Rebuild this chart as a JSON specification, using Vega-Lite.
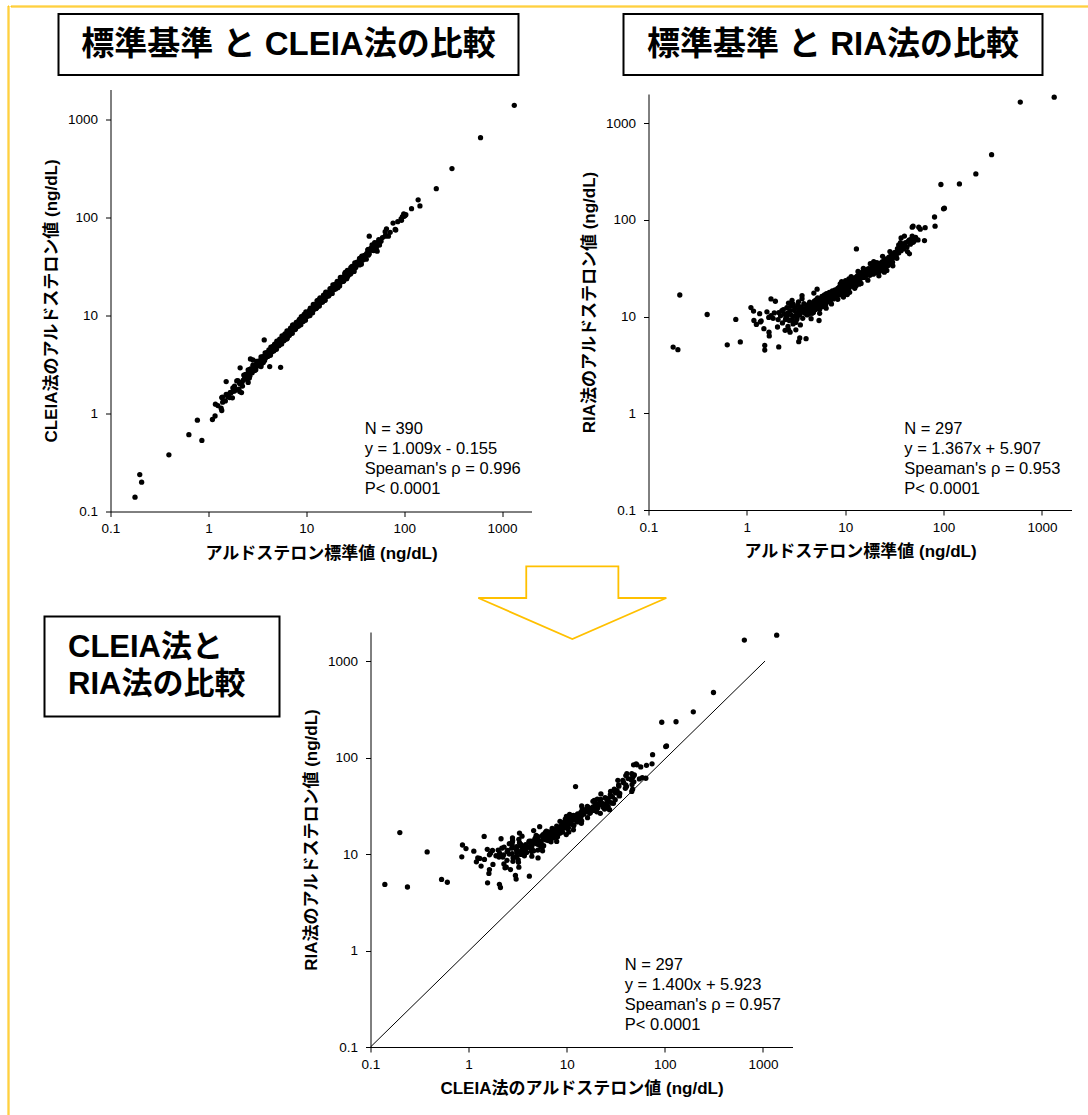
{
"$schema": "https://vega.github.io/schema/vega-lite/v6.json",
"background": "white",
"padding": {"left": 6.5, "top": 4.5, "right": 0, "bottom": 0},
"config": {
  "view": {"stroke": null},
  "font": "Liberation Sans",
  "axis": {"grid": false, "domainColor": "#000", "domainWidth": 1, "tickColor": "#000", "tickWidth": 1, "tickSize": 5, "labelColor": "#000", "labelFont": "Liberation Sans", "labelFontSize": 13.5, "labelFlush": false, "labelOverlap": false, "titleFont": "Liberation Sans, Noto Sans CJK JP", "titleFontSize": 17, "titleFontWeight": "bold", "titleColor": "#000"},
  "axisX": {"labelPadding": 5, "titlePadding": 10},
  "axisY": {"labelPadding": 8, "titlePadding": 7},
  "text": {"font": "Liberation Sans, Noto Sans CJK JP"}
},
"datasets": {"samples": [
{"std":0.178,"cleia":0.14,"ria":4.84},{"std":0.199,"cleia":0.238,"ria":4.55},{"std":0.208,"cleia":0.199,"ria":16.7},{"std":0.395,"cleia":0.378,"ria":10.5},{"std":0.632,"cleia":0.607,"ria":5.1},{"std":0.772,"cleia":0.852,"ria":9.35},{"std":0.858,"cleia":0.53,"ria":5.46},{"std":1.1,"cleia":0.866,"ria":12.4},{"std":1.17,"cleia":0.94,"ria":11.4},{"std":1.18,"cleia":1.24,"ria":9.1},{"std":1.35,"cleia":1.13,"ria":10.7},{"std":1.4,"cleia":1.3,"ria":9.0},{"std":1.37,"cleia":1.45,"ria":8.8},{"std":1.49,"cleia":1.34,"ria":7.5},{"std":1.52,"cleia":1.56,"ria":5.03},{"std":1.52,"cleia":2.11,"ria":4.5},{"std":2.11,"cleia":2.06,"ria":4.85},{"std":1.68,"cleia":1.63,"ria":6.9},{"std":1.69,"cleia":1.61,"ria":6.3},{"std":1.76,"cleia":1.44,"ria":15.2},{"std":1.95,"cleia":2.14,"ria":14.4},{"std":1.76,"cleia":1.67,"ria":10.2},{"std":1.67,"cleia":1.63,"ria":9.8},{"std":2.11,"cleia":2.0,"ria":11.0},{"std":2.08,"cleia":2.04,"ria":9.3},{"std":2.05,"cleia":1.77,"ria":7.8},{"std":2.27,"cleia":2.18,"ria":11.5},{"std":2.47,"cleia":2.23,"ria":9.3},{"std":2.56,"cleia":2.6,"ria":10.0},{"std":2.62,"cleia":2.29,"ria":7.9},{"std":2.66,"cleia":2.42,"ria":7.3},{"std":2.75,"cleia":2.67,"ria":6.9},{"std":2.88,"cleia":2.8,"ria":14.7},{"std":2.96,"cleia":2.8,"ria":13.4},{"std":3.37,"cleia":3.05,"ria":5.5},{"std":3.45,"cleia":3.0,"ria":6.0},{"std":4.0,"cleia":4.16,"ria":5.9},{"std":3.64,"cleia":3.3,"ria":16.5},{"std":3.64,"cleia":3.5,"ria":15.3},{"std":5.42,"cleia":5.1,"ria":9.1},{"std":5.18,"cleia":5.3,"ria":19.2},{"std":4.8,"cleia":4.6,"ria":17.5},{"std":4.4,"cleia":4.2,"ria":11.9},{"std":4.1,"cleia":3.9,"ria":10.4},{"std":4.5,"cleia":4.4,"ria":12.6},{"std":3.95,"cleia":3.8,"ria":10.8},{"std":3.37,"cleia":3.42,"ria":10.7},{"std":3.5,"cleia":3.52,"ria":11.6},{"std":3.23,"cleia":3.1,"ria":9.4},{"std":3.15,"cleia":3.2,"ria":8.7},{"std":2.9,"cleia":3.0,"ria":9.3},{"std":1.25,"cleia":1.2,"ria":8.3},{"std":1.6,"cleia":1.55,"ria":11.2},{"std":1.85,"cleia":1.9,"ria":9.6},{"std":1.9,"cleia":1.75,"ria":10.9},
{"std":1334,"cleia":1380,"ria":1854},{"std":603,"cleia":646,"ria":1650},{"std":308,"cleia":313,"ria":472},{"std":213,"cleia":195,"ria":298},{"std":145,"cleia":130,"ria":235},{"std":94,"cleia":93,"ria":232},{"std":102,"cleia":104,"ria":132},{"std":100,"cleia":102,"ria":130},{"std":81,"cleia":75,"ria":107},{"std":82,"cleia":74,"ria":86},{"std":65,"cleia":65,"ria":83},{"std":56,"cleia":52,"ria":84},{"std":48,"cleia":48,"ria":84},{"std":49,"cleia":51,"ria":86},{"std":48,"cleia":46,"ria":68},{"std":50,"cleia":55,"ria":60},{"std":45,"cleia":46,"ria":44.5},{"std":45,"cleia":47,"ria":62},{"std":37,"cleia":40,"ria":65},{"std":35,"cleia":38,"ria":55},{"std":38,"cleia":40,"ria":52},{"std":40,"cleia":41,"ria":68},{"std":13,"cleia":12.3,"ria":50},{"std":64,"cleia":64,"ria":61},
{"std":2.2,"cleia":2.07,"ria":10.2},{"std":2.3,"cleia":2.46,"ria":8.6},{"std":2.35,"cleia":2.3,"ria":11.8},{"std":2.4,"cleia":2.47,"ria":10.6},{"std":2.5,"cleia":2.28,"ria":9.8},{"std":2.55,"cleia":2.78,"ria":12.4},{"std":2.6,"cleia":2.5,"ria":10.9},{"std":2.7,"cleia":2.84,"ria":9.1},{"std":2.75,"cleia":2.75,"ria":11.5},{"std":2.8,"cleia":2.6,"ria":12.8},{"std":2.85,"cleia":3.1,"ria":10.3},{"std":2.95,"cleia":2.83,"ria":8.4},{"std":3.0,"cleia":3.09,"ria":11.6},{"std":3.05,"cleia":2.78,"ria":10.1},{"std":3.1,"cleia":3.38,"ria":12.3},{"std":3.2,"cleia":3.07,"ria":11.0},{"std":3.25,"cleia":3.41,"ria":9.9},{"std":3.3,"cleia":3.3,"ria":13.1},{"std":3.4,"cleia":3.09,"ria":11.9},{"std":3.45,"cleia":3.76,"ria":10.4},{"std":3.55,"cleia":3.41,"ria":12.6},{"std":3.6,"cleia":3.78,"ria":11.3},{"std":3.7,"cleia":3.7,"ria":9.6},{"std":3.75,"cleia":3.45,"ria":12.1},{"std":3.8,"cleia":4.14,"ria":13.6},{"std":3.85,"cleia":3.7,"ria":10.9},{"std":3.9,"cleia":4.1,"ria":11.8},{"std":2.45,"cleia":2.35,"ria":7.2},{"std":3.15,"cleia":3.25,"ria":7.3},{"std":3.5,"cleia":3.22,"ria":8.2},{"std":2.65,"cleia":2.81,"ria":13.8},{"std":3.35,"cleia":3.25,"ria":14.2},
{"std":4.05,"cleia":3.81,"ria":12.5},{"std":4.15,"cleia":4.44,"ria":11.2},{"std":4.2,"cleia":4.12,"ria":13.3},{"std":4.25,"cleia":4.38,"ria":10.6},{"std":4.3,"cleia":3.91,"ria":12.0},{"std":4.35,"cleia":4.74,"ria":14.1},{"std":4.45,"cleia":4.27,"ria":11.5},{"std":4.55,"cleia":4.78,"ria":12.9},{"std":4.6,"cleia":4.6,"ria":10.8},{"std":4.65,"cleia":4.32,"ria":13.6},{"std":4.7,"cleia":4.42,"ria":12.2},{"std":4.75,"cleia":5.08,"ria":11.0},{"std":4.85,"cleia":4.75,"ria":14.4},{"std":4.9,"cleia":5.05,"ria":12.6},{"std":4.95,"cleia":4.5,"ria":13.1},{"std":5.0,"cleia":5.45,"ria":11.8},{"std":5.05,"cleia":4.85,"ria":14.9},{"std":5.1,"cleia":5.36,"ria":12.4},{"std":5.2,"cleia":5.2,"ria":13.8},{"std":5.25,"cleia":4.88,"ria":15.6},{"std":5.3,"cleia":4.98,"ria":12.9},{"std":5.35,"cleia":5.72,"ria":14.2},{"std":5.45,"cleia":5.34,"ria":13.3},{"std":5.5,"cleia":5.67,"ria":11.9},{"std":5.6,"cleia":5.1,"ria":15.1},{"std":5.65,"cleia":6.16,"ria":14.0},{"std":5.7,"cleia":5.47,"ria":13.0},{"std":5.8,"cleia":6.09,"ria":16.2},{"std":5.85,"cleia":5.85,"ria":14.6},{"std":5.9,"cleia":5.49,"ria":12.7},{"std":6.0,"cleia":5.64,"ria":15.4},{"std":6.05,"cleia":6.47,"ria":13.8},{"std":6.15,"cleia":6.03,"ria":16.7},{"std":6.2,"cleia":6.39,"ria":14.3},{"std":6.3,"cleia":5.73,"ria":15.9},{"std":6.35,"cleia":6.92,"ria":13.4},{"std":6.45,"cleia":6.19,"ria":17.3},{"std":6.5,"cleia":6.83,"ria":15.0},{"std":6.6,"cleia":6.6,"ria":14.2},{"std":6.7,"cleia":6.23,"ria":16.4},{"std":6.8,"cleia":6.39,"ria":15.5},{"std":6.9,"cleia":7.38,"ria":17.8},{"std":7.0,"cleia":6.86,"ria":16.1},{"std":7.1,"cleia":7.31,"ria":14.7},{"std":7.2,"cleia":6.55,"ria":17.0},{"std":7.3,"cleia":7.96,"ria":15.8},{"std":7.4,"cleia":7.1,"ria":18.4},{"std":7.5,"cleia":7.88,"ria":16.6},{"std":7.6,"cleia":7.6,"ria":15.2},{"std":7.7,"cleia":7.16,"ria":17.5},{"std":7.8,"cleia":7.33,"ria":16.3},{"std":7.9,"cleia":8.45,"ria":18.9},{"std":4.5,"cleia":4.41,"ria":9.5},{"std":5.5,"cleia":5.67,"ria":10.8},{"std":6.4,"cleia":5.82,"ria":12.2},{"std":7.25,"cleia":7.9,"ria":13.5},
{"std":8.0,"cleia":7.68,"ria":17.9},{"std":8.1,"cleia":8.51,"ria":16.4},{"std":8.2,"cleia":8.2,"ria":18.6},{"std":8.3,"cleia":7.72,"ria":17.2},{"std":8.4,"cleia":7.9,"ria":19.5},{"std":8.5,"cleia":9.1,"ria":16.9},{"std":8.6,"cleia":8.43,"ria":18.1},{"std":8.7,"cleia":8.96,"ria":20.2},{"std":8.8,"cleia":8.0,"ria":17.6},{"std":8.9,"cleia":9.7,"ria":19.0},{"std":9.0,"cleia":8.64,"ria":16.8},{"std":9.1,"cleia":9.56,"ria":18.8},{"std":9.2,"cleia":9.2,"ria":20.9},{"std":9.3,"cleia":8.65,"ria":17.9},{"std":9.4,"cleia":8.84,"ria":19.7},{"std":9.5,"cleia":10.2,"ria":18.3},{"std":9.6,"cleia":9.41,"ria":21.4},{"std":9.7,"cleia":9.99,"ria":19.2},{"std":9.8,"cleia":8.92,"ria":17.7},{"std":9.9,"cleia":10.8,"ria":20.5},{"std":10.0,"cleia":9.6,"ria":19.1},{"std":10.2,"cleia":10.7,"ria":21.8},{"std":10.4,"cleia":10.4,"ria":18.7},{"std":10.6,"cleia":9.86,"ria":20.9},{"std":10.8,"cleia":10.2,"ria":22.6},{"std":11.0,"cleia":11.8,"ria":19.9},{"std":11.2,"cleia":11.0,"ria":21.3},{"std":11.4,"cleia":11.7,"ria":23.4},{"std":11.6,"cleia":10.6,"ria":20.6},{"std":11.8,"cleia":12.9,"ria":22.2},{"std":12.0,"cleia":11.5,"ria":24.3},{"std":12.2,"cleia":12.8,"ria":21.5},{"std":12.4,"cleia":12.4,"ria":23.1},{"std":12.6,"cleia":11.7,"ria":25.2},{"std":12.8,"cleia":12.0,"ria":22.4},{"std":13.0,"cleia":13.9,"ria":24.0},{"std":13.2,"cleia":12.9,"ria":26.1},{"std":13.4,"cleia":13.8,"ria":23.3},{"std":13.6,"cleia":12.4,"ria":25.0},{"std":13.8,"cleia":15.0,"ria":27.0},{"std":14.0,"cleia":13.4,"ria":24.2},{"std":14.2,"cleia":14.9,"ria":26.0},{"std":14.4,"cleia":14.4,"ria":28.1},{"std":14.6,"cleia":13.6,"ria":25.1},{"std":14.8,"cleia":13.9,"ria":27.0},{"std":15.0,"cleia":16.0,"ria":29.0},{"std":15.2,"cleia":14.9,"ria":26.1},{"std":15.4,"cleia":15.9,"ria":28.0},{"std":15.6,"cleia":14.2,"ria":25.4},{"std":15.8,"cleia":17.2,"ria":29.6},{"std":8.4,"cleia":8.06,"ria":15.1},{"std":9.2,"cleia":9.66,"ria":23.0},{"std":10.5,"cleia":10.5,"ria":16.9},{"std":11.5,"cleia":10.7,"ria":25.8},{"std":12.5,"cleia":11.75,"ria":19.6},{"std":13.5,"cleia":14.4,"ria":29.3},{"std":14.5,"cleia":14.2,"ria":22.0},{"std":9.6,"cleia":9.89,"ria":15.9},{"std":10.9,"cleia":9.92,"ria":24.5},{"std":12.9,"cleia":14.1,"ria":20.8},{"std":8.9,"cleia":8.54,"ria":21.8},{"std":11.1,"cleia":11.7,"ria":17.8},{"std":13.9,"cleia":13.9,"ria":21.6},{"std":15.3,"cleia":14.2,"ria":31.5},{"std":10.1,"cleia":10.4,"ria":23.5},
{"std":16.0,"cleia":15.4,"ria":28.6},{"std":16.3,"cleia":17.1,"ria":26.4},{"std":16.6,"cleia":16.6,"ria":30.5},{"std":16.9,"cleia":15.7,"ria":27.6},{"std":17.2,"cleia":16.2,"ria":31.2},{"std":17.5,"cleia":18.7,"ria":28.9},{"std":17.8,"cleia":17.4,"ria":26.7},{"std":18.1,"cleia":18.6,"ria":30.8},{"std":18.4,"cleia":16.7,"ria":28.2},{"std":18.7,"cleia":20.4,"ria":32.6},{"std":19.0,"cleia":18.2,"ria":29.5},{"std":19.3,"cleia":20.3,"ria":27.4},{"std":19.6,"cleia":19.6,"ria":33.4},{"std":19.9,"cleia":18.5,"ria":30.6},{"std":20.3,"cleia":19.1,"ria":28.3},{"std":20.7,"cleia":22.1,"ria":32.5},{"std":21.1,"cleia":20.7,"ria":30.0},{"std":21.5,"cleia":22.1,"ria":34.8},{"std":21.9,"cleia":19.9,"ria":31.3},{"std":22.3,"cleia":24.3,"ria":29.2},{"std":22.7,"cleia":21.8,"ria":35.6},{"std":23.1,"cleia":24.3,"ria":32.8},{"std":23.5,"cleia":23.5,"ria":30.5},{"std":23.9,"cleia":22.2,"ria":36.9},{"std":24.3,"cleia":22.8,"ria":33.7},{"std":24.7,"cleia":26.4,"ria":31.2},{"std":25.1,"cleia":24.6,"ria":38.4},{"std":25.5,"cleia":26.3,"ria":35.1},{"std":25.9,"cleia":23.6,"ria":32.6},{"std":26.3,"cleia":28.7,"ria":39.5},{"std":26.8,"cleia":25.7,"ria":36.3},{"std":27.3,"cleia":28.7,"ria":33.8},{"std":27.8,"cleia":27.8,"ria":41.2},{"std":28.3,"cleia":26.3,"ria":37.6},{"std":28.8,"cleia":27.1,"ria":35.0},{"std":29.3,"cleia":31.4,"ria":43.1},{"std":29.8,"cleia":29.2,"ria":39.2},{"std":30.3,"cleia":31.2,"ria":36.5},{"std":30.8,"cleia":28.0,"ria":44.7},{"std":31.3,"cleia":34.1,"ria":41.0},{"std":17.0,"cleia":16.3,"ria":23.8},{"std":19.5,"cleia":20.5,"ria":37.0},{"std":22.0,"cleia":22.0,"ria":26.4},{"std":24.0,"cleia":22.3,"ria":42.0},{"std":26.5,"cleia":24.9,"ria":30.0},{"std":28.5,"cleia":30.5,"ria":47.0},{"std":30.5,"cleia":29.9,"ria":33.5},{"std":18.0,"cleia":18.5,"ria":35.2},{"std":21.0,"cleia":19.1,"ria":36.0},{"std":25.0,"cleia":27.3,"ria":28.8},
{"std":32.0,"cleia":30.7,"ria":46.0},{"std":33.0,"cleia":34.7,"ria":42.5},{"std":34.0,"cleia":34.0,"ria":50.5},{"std":35.0,"cleia":32.6,"ria":45.5},{"std":36.0,"cleia":33.8,"ria":52.0},{"std":37.0,"cleia":39.6,"ria":48.0},{"std":38.5,"cleia":37.7,"ria":55.0},{"std":39.5,"cleia":40.7,"ria":50.0},{"std":41.0,"cleia":37.3,"ria":58.0},{"std":42.5,"cleia":46.3,"ria":52.5},{"std":44.0,"cleia":42.2,"ria":60.5},{"std":46.0,"cleia":48.3,"ria":56.0},{"std":47.5,"cleia":47.5,"ria":64.0},{"std":49.0,"cleia":45.6,"ria":58.5},{"std":52.0,"cleia":48.9,"ria":66.0},{"std":55.0,"cleia":58.9,"ria":62.0},{"std":58.0,"cleia":56.8,"ria":80.0},{"std":33.5,"cleia":34.5,"ria":40.0},{"std":36.5,"cleia":33.2,"ria":58.0},{"std":43.0,"cleia":46.9,"ria":47.0},
{"std":1.37,"cleia":1.07},{"std":1.39,"cleia":1.46},{"std":1.58,"cleia":1.48},{"std":1.65,"cleia":1.45},{"std":1.78,"cleia":1.82},{"std":1.85,"cleia":1.69},{"std":2.0,"cleia":2.16},{"std":2.11,"cleia":2.91},{"std":2.09,"cleia":1.67},{"std":2.18,"cleia":1.63},{"std":2.23,"cleia":1.9},{"std":2.55,"cleia":2.07},{"std":2.65,"cleia":2.6},{"std":2.69,"cleia":3.59},{"std":2.85,"cleia":3.5},{"std":2.97,"cleia":2.73},{"std":3.36,"cleia":3.17},{"std":3.67,"cleia":3.72},{"std":3.72,"cleia":5.61},{"std":4.23,"cleia":3.0},{"std":5.47,"cleia":2.95},
{"std":3.1,"cleia":3.0},{"std":3.9,"cleia":4.1},{"std":4.3,"cleia":4.1},{"std":4.7,"cleia":4.9},{"std":5.1,"cleia":5.0},{"std":5.6,"cleia":5.4},{"std":6.1,"cleia":6.3},{"std":6.6,"cleia":6.4},{"std":7.1,"cleia":7.3},{"std":7.7,"cleia":7.4},{"std":8.2,"cleia":8.5},{"std":8.8,"cleia":8.6},{"std":9.4,"cleia":9.7},{"std":10.1,"cleia":9.8},{"std":10.8,"cleia":11.2},{"std":11.5,"cleia":11.1},{"std":12.3,"cleia":12.7},{"std":13.1,"cleia":12.6},{"std":14.0,"cleia":14.5},{"std":14.9,"cleia":14.4},{"std":15.9,"cleia":16.4},{"std":16.9,"cleia":16.3},{"std":18.0,"cleia":18.6},{"std":19.1,"cleia":18.4},{"std":20.3,"cleia":21.0},{"std":21.6,"cleia":20.8},{"std":22.9,"cleia":23.6},{"std":24.3,"cleia":23.4},{"std":25.8,"cleia":26.6},{"std":27.4,"cleia":26.3},{"std":29.0,"cleia":30.0},{"std":30.8,"cleia":29.6},{"std":32.7,"cleia":33.7},{"std":34.7,"cleia":33.3},{"std":36.8,"cleia":38.0},{"std":39.0,"cleia":37.5},{"std":41.5,"cleia":42.8},{"std":2.4,"cleia":2.5},{"std":2.8,"cleia":2.7},{"std":3.4,"cleia":3.3},{"std":4.6,"cleia":4.8},{"std":5.8,"cleia":5.6},{"std":6.9,"cleia":7.1},{"std":8.5,"cleia":8.3},{"std":9.9,"cleia":10.3},{"std":11.9,"cleia":11.5},{"std":13.6,"cleia":14.1},{"std":15.5,"cleia":15.0},{"std":17.6,"cleia":18.2},{"std":19.8,"cleia":19.2},{"std":23.5,"cleia":24.2},{"std":26.7,"cleia":25.9},{"std":31.5,"cleia":32.4},{"std":37.5,"cleia":36.3},
{"std":139,"cleia":150},{"std":119,"cleia":122},{"std":99,"cleia":108},{"std":96,"cleia":101},{"std":93,"cleia":96},{"std":104,"cleia":106},{"std":77,"cleia":87},{"std":66,"cleia":76},{"std":69,"cleia":64},{"std":64,"cleia":71},{"std":44,"cleia":64},{"std":56,"cleia":56},{"std":53,"cleia":55},{"std":51,"cleia":50},{"std":53,"cleia":45},{"std":60,"cleia":62},{"std":72,"cleia":70},{"std":86,"cleia":90},{"std":47,"cleia":52},{"std":43,"cleia":41}
]},
"spacing": 0,
"hconcat": [
 {"width": 1, "height": 1115, "view": {"stroke": "#FFC000", "strokeWidth": 1}, "data": {"values": [{}]}, "mark": {"type": "point", "size": 0, "opacity": 0}},
 {"spacing": 5.5, "vconcat": [
  {"width": 1090, "height": 1, "view": {"stroke": "#FFC000", "strokeWidth": 1}, "data": {"values": [{}]}, "mark": {"type": "point", "size": 0, "opacity": 0}},
  {"spacing": 0, "vconcat": [
   {"spacing": 13.5, "vconcat": [
     {"spacing": 46, "hconcat": [
       {"width": 1, "height": 1, "data": {"values": [{}]}, "mark": {"type": "point", "size": 0, "opacity": 0}},
       {"spacing": 103, "hconcat": [
         {"width": 460, "height": 61, "view": {"stroke": "#000", "strokeWidth": 2}, "data": {"values": [{}]},
          "mark": {"type": "text", "fontSize": 33, "fontWeight": "bold", "font": "Liberation Sans, Noto Sans CJK JP", "color": "#000"},
          "encoding": {"text": {"value": "標準基準 と CLEIA法の比較"}}},
         {"width": 419, "height": 61, "view": {"stroke": "#000", "strokeWidth": 2}, "data": {"values": [{}]},
          "mark": {"type": "text", "fontSize": 33, "fontWeight": "bold", "font": "Liberation Sans, Noto Sans CJK JP", "color": "#000"},
          "encoding": {"text": {"value": "標準基準 と RIA法の比較"}}}
       ]}
     ]},
     {"spacing": 30, "hconcat": [
       {"width": 1, "height": 1, "data": {"values": [{}]}, "mark": {"type": "point", "size": 0, "opacity": 0}},
       {"spacing": 48, "hconcat": [
         {"width": 421, "height": 422, "layer": [
           {"data": {"name": "samples"},
            "mark": {"type": "circle", "size": 28, "color": "#000", "opacity": 1},
            "encoding": {
              "x": {"field": "std", "type": "quantitative", "scale": {"type": "log", "domain": [0.1, 2000], "nice": false}, "axis": {"values": [0.1, 1, 10, 100, 1000], "format": "~g", "title": "アルドステロン標準値 (ng/dL)"}},
              "y": {"field": "cleia", "type": "quantitative", "scale": {"type": "log", "domain": [0.1, 2000], "nice": false}, "axis": {"values": [0.1, 1, 10, 100, 1000], "format": "~g", "title": "CLEIA法のアルドステロン値 (ng/dL)"}}
            }},
           {"data": {"values": [{}]},
            "mark": {"type": "text", "align": "left", "baseline": "top", "fontSize": 16.5, "lineHeight": 20, "font": "Liberation Sans", "color": "#000"},
            "encoding": {"x": {"datum": 39.5, "type": "quantitative"}, "y": {"datum": 0.845, "type": "quantitative"}, "text": {"value": ["N = 390", "y = 1.009x - 0.155", "Speaman's ρ = 0.996", "P< 0.0001"]}}}
         ]},
         {"spacing": 3.5, "vconcat": [
           {"width": 1, "height": 1, "data": {"values": [{}]}, "mark": {"type": "point", "size": 0, "opacity": 0}},
           {"width": 423, "height": 416, "layer": [
             {"data": {"name": "samples"}, "transform": [{"filter": "isValid(datum.ria)"}],
              "mark": {"type": "circle", "size": 28, "color": "#000", "opacity": 1},
              "encoding": {
                "x": {"field": "std", "type": "quantitative", "scale": {"type": "log", "domain": [0.1, 2000], "nice": false}, "axis": {"values": [0.1, 1, 10, 100, 1000], "format": "~g", "title": "アルドステロン標準値 (ng/dL)"}},
                "y": {"field": "ria", "type": "quantitative", "scale": {"type": "log", "domain": [0.1, 2000], "nice": false}, "axis": {"values": [0.1, 1, 10, 100, 1000], "format": "~g", "title": "RIA法のアルドステロン値 (ng/dL)"}}
              }},
             {"data": {"values": [{}]},
              "mark": {"type": "text", "align": "left", "baseline": "top", "fontSize": 16.5, "lineHeight": 20, "font": "Liberation Sans", "color": "#000"},
              "encoding": {"x": {"datum": 39.9, "type": "quantitative"}, "y": {"datum": 0.841, "type": "quantitative"}, "text": {"value": ["N = 297", "y = 1.367x + 5.907", "Speaman's ρ = 0.953", "P< 0.0001"]}}}
           ]}
         ]}
       ]}
     ]}
   ]},
   {"spacing": 32, "hconcat": [
     {"width": 1, "height": 1, "data": {"values": [{}]}, "mark": {"type": "point", "size": 0, "opacity": 0}},
     {"spacing": 21, "hconcat": [
       {"spacing": 53.5, "vconcat": [
         {"width": 1, "height": 1, "data": {"values": [{}]}, "mark": {"type": "point", "size": 0, "opacity": 0}},
         {"width": 235, "height": 100, "view": {"stroke": "#000", "strokeWidth": 2}, "data": {"values": [{}]},
          "mark": {"type": "text", "align": "left", "dx": -94, "dy": -18.75, "fontSize": 31, "lineHeight": 37.5, "fontWeight": "bold", "font": "Liberation Sans, Noto Sans CJK JP", "color": "#000"},
          "encoding": {"text": {"value": ["CLEIA法と", "RIA法の比較"]}}}
       ]},
       {"spacing": 0, "vconcat": [
         {"width": 1, "height": 1, "data": {"values": [{}]}, "mark": {"type": "point", "size": 0, "opacity": 0}},
         {"width": 422, "height": 415, "layer": [
           {"data": {"values": [{}]},
            "mark": {"type": "rule", "color": "#000", "strokeWidth": 1},
            "encoding": {"x": {"datum": 0.1, "type": "quantitative"}, "y": {"datum": 0.1, "type": "quantitative"}, "x2": {"datum": 1050}, "y2": {"datum": 1000}}},
           {"data": {"name": "samples"}, "transform": [{"filter": "isValid(datum.ria)"}],
            "mark": {"type": "circle", "size": 28, "color": "#000", "opacity": 1},
            "encoding": {
              "x": {"field": "cleia", "type": "quantitative", "scale": {"type": "log", "domain": [0.1, 2000], "nice": false}, "axis": {"values": [0.1, 1, 10, 100, 1000], "format": "~g", "title": "CLEIA法のアルドステロン値 (ng/dL)"}},
              "y": {"field": "ria", "type": "quantitative", "scale": {"type": "log", "domain": [0.1, 2000], "nice": false}, "axis": {"values": [0.1, 1, 10, 100, 1000], "format": "~g", "title": "RIA法のアルドステロン値 (ng/dL)"}}
            }},
           {"data": {"values": [{}]},
            "mark": {"type": "text", "align": "left", "baseline": "top", "fontSize": 16.5, "lineHeight": 20, "font": "Liberation Sans", "color": "#000"},
            "encoding": {"x": {"datum": 39, "type": "quantitative"}, "y": {"datum": 0.847, "type": "quantitative"}, "text": {"value": ["N = 297", "y = 1.400x + 5.923", "Speaman's ρ = 0.957", "P< 0.0001"]}}},
           {"data": {"values": [{}]},
            "mark": {"type": "point", "shape": "M-0.49,-0.337L0.49,-0.337L0.49,0L1,0L0,0.436L-1,0L-0.49,0Z", "size": 35344, "filled": false, "color": "#FFC000", "strokeWidth": 1.8, "opacity": 1, "clip": false},
            "encoding": {"x": {"datum": 11.4, "type": "quantitative"}, "y": {"datum": 4500, "type": "quantitative"}}}
         ]}
       ]}
     ]}
   ]}
  ]}
 ]}
]
}
